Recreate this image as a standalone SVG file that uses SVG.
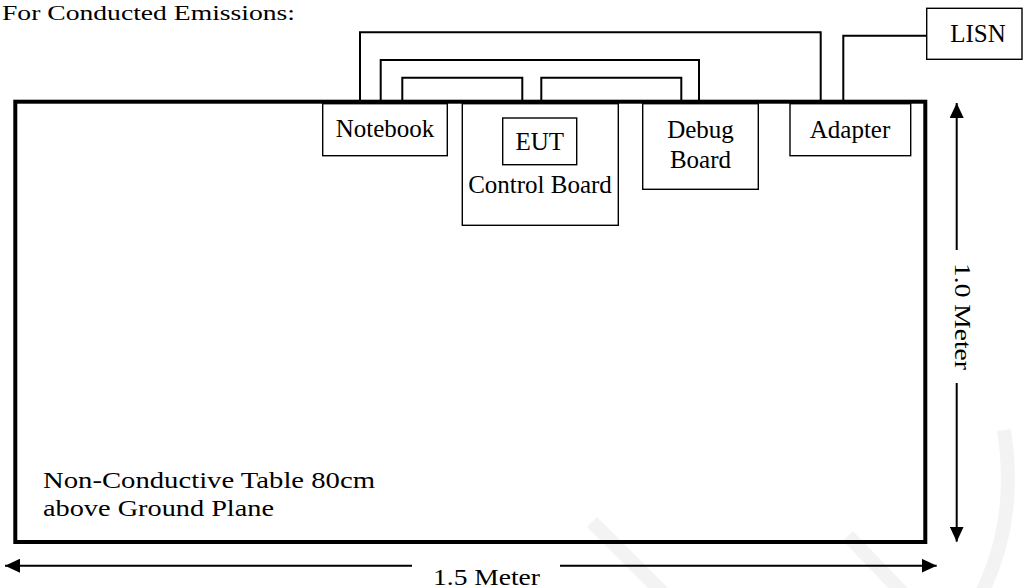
<svg xmlns="http://www.w3.org/2000/svg" width="1024" height="588" viewBox="0 0 1024 588">
<style>
text{font-family:"Liberation Serif","Times New Roman",serif;fill:#000}
.lbl{font-size:25px;text-anchor:middle}
.big{font-size:24px}
.box{fill:#fff;stroke:#000;stroke-width:1.4}
.cable{fill:none;stroke:#000;stroke-width:2}
.dim{fill:none;stroke:#000;stroke-width:2}
.wm{fill:none;stroke:#f3f3f3;stroke-width:14}
</style>
<defs>
<marker id="ah" viewBox="0 0 15 14" refX="15" refY="7" markerWidth="15" markerHeight="14" markerUnits="userSpaceOnUse" orient="auto-start-reverse">
<path d="M0,0 L15,7 L0,14 Z" fill="#000"/>
</marker>
</defs>
<rect width="1024" height="588" fill="#fff"/>
<g id="watermark">
<path class="wm" d="M592,522 L662,592"/>
<path class="wm" d="M848,536 L902,592"/>
<path class="wm" d="M1004,430 Q1018,520 982,592"/>
</g>
<text id="title" x="2" y="19.5" style="font-size:21.5px" textLength="293" lengthAdjust="spacingAndGlyphs">For Conducted Emissions:</text>

<g id="connectors">
<path class="cable" d="M360,101 V32.3 H820.7 V101"/>
<path class="cable" d="M380.7,101 V60 H699 V101"/>
<path class="cable" d="M402.3,101 V77.7 H522.3 V101"/>
<path class="cable" d="M541.3,101 V77.7 H681.3 V101"/>
<path class="cable" d="M843.3,101 V35.7 H926.7"/>
</g>

<g id="table">
<rect x="15.3" y="101.7" width="910" height="440.3" fill="none" stroke="#000" stroke-width="4"/>
<text x="43" y="488" class="big" textLength="332" lengthAdjust="spacingAndGlyphs">Non-Conductive Table 80cm</text>
<text x="43" y="516" class="big" textLength="231" lengthAdjust="spacingAndGlyphs">above Ground Plane</text>
</g>

<g id="notebook">
<rect class="box" x="322.7" y="103.7" width="124.6" height="52"/>
<text class="lbl" x="385" y="137">Notebook</text>
</g>

<g id="control-board">
<rect class="box" x="462.3" y="103.7" width="156" height="121.6"/>
<text class="lbl" x="540" y="193.3">Control Board</text>
</g>

<g id="eut">
<rect class="box" x="502.7" y="118" width="74" height="46.7"/>
<text class="lbl" x="539.7" y="150">EUT</text>
</g>

<g id="debug-board">
<rect class="box" x="642.7" y="103.7" width="115.6" height="85.6"/>
<text class="lbl" x="700.5" y="138">Debug</text>
<text class="lbl" x="700.5" y="168">Board</text>
</g>

<g id="adapter">
<rect class="box" x="790" y="103.7" width="120.7" height="52"/>
<text class="lbl" x="850" y="138">Adapter</text>
</g>

<g id="lisn">
<rect class="box" x="926.7" y="8.3" width="95.3" height="51"/>
<text class="lbl" x="978" y="41.7">LISN</text>
</g>

<g id="dimensions">
<line class="dim" x1="956.7" y1="250" x2="956.7" y2="103" marker-end="url(#ah)"/>
<line class="dim" x1="956.7" y1="383" x2="956.7" y2="541.7" marker-end="url(#ah)"/>
<text class="big" transform="translate(955,316.5) rotate(90)" text-anchor="middle" textLength="107" lengthAdjust="spacingAndGlyphs">1.0 Meter</text>
<line class="dim" x1="412" y1="565.7" x2="5" y2="565.7" marker-end="url(#ah)"/>
<line class="dim" x1="560" y1="565.7" x2="936.7" y2="565.7" marker-end="url(#ah)"/>
<text class="big" x="433" y="585" textLength="107" lengthAdjust="spacingAndGlyphs">1.5 Meter</text>
</g>
</svg>
